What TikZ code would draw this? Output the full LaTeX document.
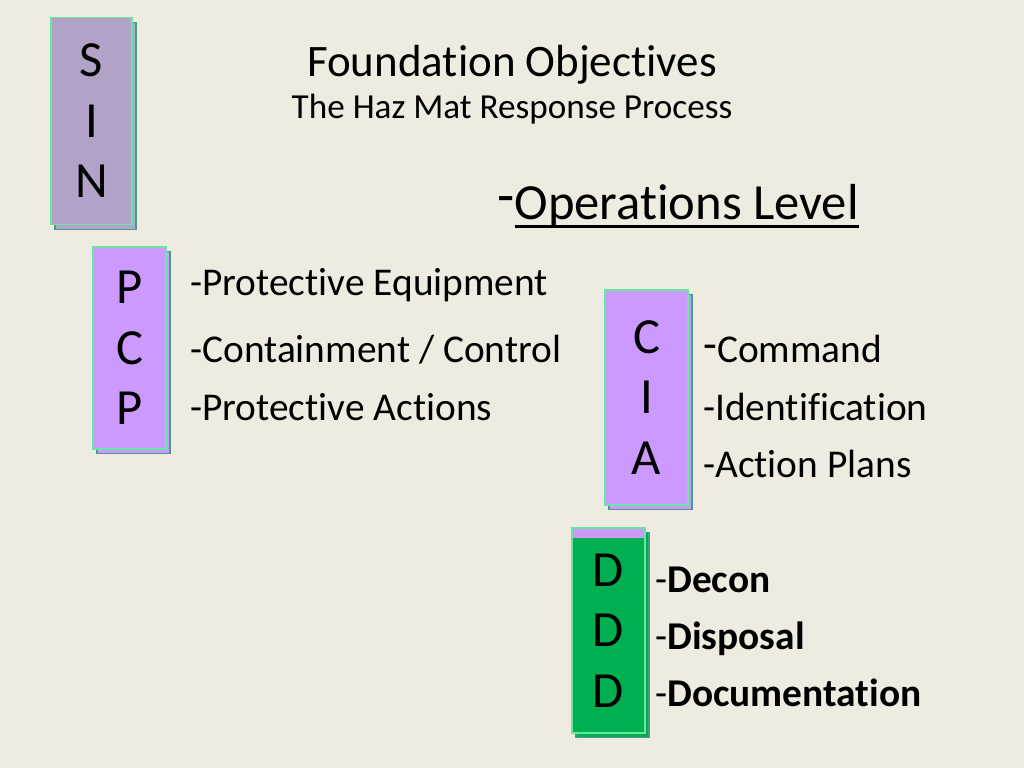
\documentclass[tikz,border=0pt]{standalone}
\usepackage{fontspec}
\setmainfont{Carlito}[Ligatures={NoCommon,NoContextual}]
\usetikzlibrary{shadows}
\definecolor{bgtan}{HTML}{EEECE1}
\definecolor{sinfill}{HTML}{B3A2C7}
\definecolor{violetfill}{HTML}{CC99FF}
\definecolor{greenfill}{HTML}{00B050}
\definecolor{rimgreen}{HTML}{66E8A0}
\definecolor{rimteal}{HTML}{4A9A8C}
\newcommand{\thickul}[1]{\setbox0\hbox{#1}\rlap{\rule[-6.4pt]{\wd0}{1.8pt}}\box0}
\tikzset{letterbox/.style = {shape=rectangle,draw=rimgreen,line width=0.8pt,inner sep=0pt,align=center,
  font=\fontsize{36}{43}\selectfont,
  copy shadow={shadow xshift=2.8pt,shadow yshift=-3.5pt,draw=rimteal}}}
\tikzset{item/.style = {anchor=base west,inner sep=0pt,font=\fontsize{28}{34}\selectfont}}
\begin{document}
\begin{tikzpicture}[x=0.025cm,y=-0.025cm]
\fill[bgtan] (0,0) rectangle (1024,768);
\useasboundingbox (0,0) rectangle (1024,768);
% titles
\node[inner sep=0pt,anchor=base,font=\fontsize{32}{38}\selectfont] (title) at (512,77) {Foundation Objectives};
\node[inner sep=0pt,anchor=base,font=\fontsize{25}{30}\selectfont] (subtitle) at (512,119) {The Haz Mat Response Process};
\node[inner sep=0pt,anchor=base west,font=\fontsize{36}{43}\selectfont] (level) at (497,219)
  {\raisebox{3pt}{\fontsize{40}{48}\selectfont-}\thickul{Operations Level}};

% boxes
\node[letterbox,fill=sinfill,minimum width=81*0.025cm,minimum height=207*0.025cm] (sin) at (91.5,121) {S\\I\\N};
\node[letterbox,fill=violetfill,minimum width=73*0.025cm,minimum height=202*0.025cm] (pcp) at (129.5,348) {P\\C\\P};
\node[letterbox,fill=violetfill,minimum width=83*0.025cm,minimum height=215*0.025cm] (cia) at (646.5,397.5) {C\\I\\A};
\node[letterbox,fill=greenfill,minimum width=73*0.025cm,minimum height=205*0.025cm,
  path picture={\fill[violetfill] (path picture bounding box.north west) rectangle ([yshift=-7pt]path picture bounding box.north east);}]
  (ddd) at (608.5,630.5) {D\\D\\D};

% items
\node[item] (pcp1) at (190,295) {-Protective Equipment};
\node[item] (pcp2) at (190,362) {-Containment / Control};
\node[item] (pcp3) at (190,420) {-Protective Actions};
\node[item] (cia1) at (703,362) {\raisebox{2pt}{\fontsize{32}{38}\selectfont-}Command};
\node[item] (cia2) at (703,420) {-Identification};
\node[item] (cia3) at (703,477) {-Action Plans};
\node[item] (ddd1) at (655,592) {-\textbf{Decon}};
\node[item] (ddd2) at (655,649) {-\textbf{Disposal}};
\node[item] (ddd3) at (655,706) {-\textbf{Documentation}};
\end{tikzpicture}
\end{document}
